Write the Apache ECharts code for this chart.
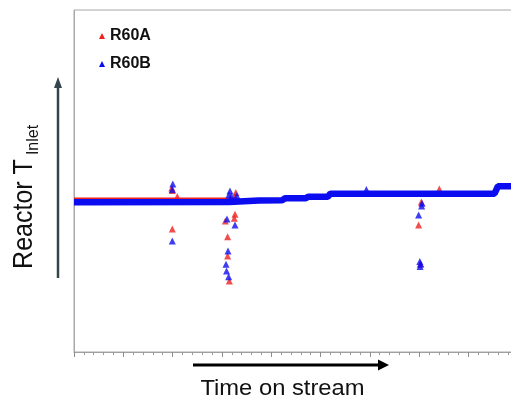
<!DOCTYPE html>
<html>
<head>
<meta charset="utf-8">
<script src="https://cdn.jsdelivr.net/npm/echarts@6/dist/echarts.min.js"></script>
<style>
  html, body { margin: 0; padding: 0; background: #fff; overflow: hidden; }
  #chart { width: 580px; height: 401px; }
</style>
</head>
<body>
<div id="chart"></div>
<script>
// Axis ranges (arbitrary units: time on stream / reactor inlet temperature)
const xMin = 0, xMax = 100, xInterval = 10;
const yMin = 0, yMax = 100;

// Dense baseline of the measurements (read as step segments)
const r60aBand = [[0, 44.27], [32.6, 44.27]];
const r60bBand = [[0, 43.8], [31.5, 43.85], [37.5, 44.3], [42.2, 44.35], [42.8, 44.94], [47.0, 44.94],
  [47.5, 45.41], [51.5, 45.41], [52.0, 46.3], [69.8, 46.3], [70.1, 45.8], [70.4, 46.3],
  [85.3, 46.3], [86.0, 48.5], [90, 48.5]];

// Individual excursion points
const r60aPoints = [[19.84, 47.95], [19.94, 47.22], [20.95, 45.47], [19.94, 35.96],
  [32.82, 46.64], [32.62, 45.47], [30.69, 38.3], [32.66, 40.26], [32.52, 39.09],
  [31.16, 33.71], [31.16, 28.07], [31.5, 20.76],
  [70.45, 43.86], [69.9, 37.13], [70.24, 25.73], [74.1, 47.66]];
const r60bPoints = [[20.04, 49.12], [19.94, 47.51], [19.94, 32.46],
  [31.64, 47.08], [31.4, 45.9], [31.9, 45.6], [33.02, 45.76], [31.03, 38.89], [32.66, 37.13],
  [31.24, 29.53], [30.83, 25.64], [30.95, 23.68], [31.36, 22.02],
  [70.59, 43.48], [70.51, 42.69], [69.9, 40.06], [70.14, 26.46], [70.2, 25.0], [70.34, 25.73],
  [59.3, 47.5]];

const seriesNames = ['R60A', 'R60B'];
const colA = '#ee2020';
const colB = '#0c0cf0';
const FONT = "'Liberation Sans', Arial, sans-serif";

const chart = echarts.init(document.getElementById('chart'));
chart.setOption({
  animation: false,
  backgroundColor: '#fff',
  grid: { left: 74, top: 10, width: 493, height: 342, show: true, borderColor: '#a8a8a8', borderWidth: 1, backgroundColor: 'transparent' },
  legend: {
    data: [{ name: seriesNames[0], icon: 'triangle' }, { name: seriesNames[1], icon: 'triangle' }],
    orient: 'vertical', left: 94, top: 23, itemWidth: 6, itemHeight: 6, itemGap: 12,
    textStyle: { fontFamily: FONT, fontSize: 16, fontWeight: 'bold', color: '#111', lineHeight: 16 }
  },
  xAxis: {
    type: 'value', min: xMin, max: xMax, interval: xInterval,
    axisLine: { show: true, lineStyle: { color: '#a0a0a0', width: 1 } },
    axisTick: { show: true, length: 5, lineStyle: { color: '#8c8c8c' } },
    minorTick: { show: true, splitNumber: 5, length: 3, lineStyle: { color: '#999' } },
    axisLabel: { show: false }, splitLine: { show: false }
  },
  yAxis: {
    type: 'value', min: yMin, max: yMax,
    axisLine: { show: true, lineStyle: { color: '#a8a8a8', width: 1 } },
    axisTick: { show: false }, axisLabel: { show: false }, splitLine: { show: false }
  },
  series: [
    { name: seriesNames[0], type: 'line', data: r60aBand, symbol: 'none', lineStyle: { color: colA, width: 6 }, itemStyle: { color: colA }, z: 2 },
    { name: seriesNames[0], type: 'scatter', data: r60aPoints, symbol: 'triangle', symbolSize: 7, itemStyle: { color: colA }, z: 3 },
    { name: seriesNames[1], type: 'line', data: r60bBand, symbol: 'none', lineStyle: { color: colB, width: 6.5 }, itemStyle: { color: colB }, z: 4 },
    { name: seriesNames[1], type: 'scatter', data: r60bPoints, symbol: 'triangle', symbolSize: 7, itemStyle: { color: colB }, z: 5 }
  ],
  graphic: [
    { type: 'line', shape: { x1: 58, y1: 278, x2: 58, y2: 86 }, style: { stroke: '#34454c', lineWidth: 2.5 } },
    { type: 'polygon', shape: { points: [[58, 77], [54, 88], [62, 88]] }, style: { fill: '#34454c' } },
    { type: 'line', shape: { x1: 193, y1: 365, x2: 381, y2: 365 }, style: { stroke: '#000', lineWidth: 3 } },
    { type: 'polygon', shape: { points: [[389, 365], [378, 359.5], [378, 370.5]] }, style: { fill: '#000' } },
    { type: 'text', x: 282.5, y: 389, scaleX: 1.08, style: { text: 'Time on stream', font: '22px ' + FONT, fill: '#111', align: 'center', verticalAlign: 'middle' } },
    { type: 'text', x: 24, y: 214, rotation: Math.PI / 2, scaleY: 1.1, style: { text: 'Reactor T', font: '25px ' + FONT, fill: '#111', align: 'center', verticalAlign: 'middle' } },
    { type: 'text', x: 34, y: 140, rotation: Math.PI / 2, style: { text: 'Inlet', font: '16px ' + FONT, fill: '#111', align: 'center', verticalAlign: 'middle' } }
  ]
});
</script>
</body>
</html>
